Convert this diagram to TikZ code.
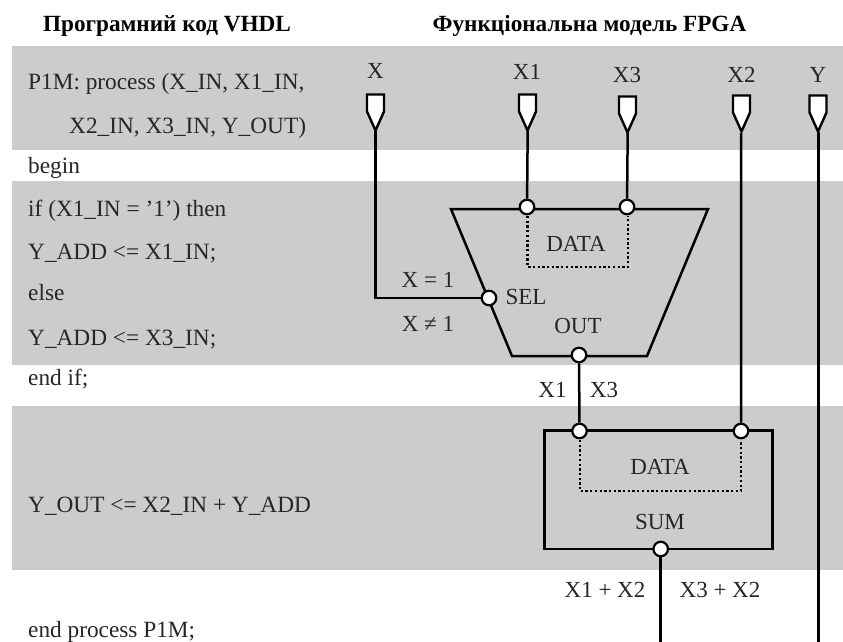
\documentclass[tikz,border=0pt]{standalone}
\usepackage{fontspec}
\setmainfont{Liberation Serif}
\definecolor{band}{HTML}{CCCCCC}
\pgfdeclarelayer{under}
\pgfsetlayers{under,main}
\tikzset{
 x=1pt,y=-1pt,
 bandfill/.style={fill=band,draw=none},
 wire/.style={line width=2.5pt,draw=black,line join=miter},
 dotwire/.style={line width=2.3pt,draw=black,dash pattern=on 2.3pt off 2.4pt},
 pin/.style={draw=black,fill=white,line width=2.4pt,line join=miter},
 port/.style={circle,draw=black,fill=white,line width=2.2pt,minimum size=14.5pt,inner sep=0pt},
 code/.style={anchor=base west,inner sep=0pt,font=\fontsize{23.3}{27}\selectfont,text=black!85},
 lab/.style={anchor=base,inner sep=0pt,font=\fontsize{23}{27}\selectfont,text=black!85},
 head/.style={anchor=base,inner sep=0pt,font=\fontsize{23.2}{27}\selectfont\bfseries}
}
\begin{document}
\begin{tikzpicture}
\useasboundingbox (0,0) rectangle (843,642);
\node[head] (h1) at (167,32) {Програмний код VHDL};
\node[head] (h2) at (589.5,32) {Функціональна модель FPGA};
\node[code] (c1) at (28,89) {P1M: process (X\_IN, X1\_IN,};
\node[code] (c2) at (69,133) {X2\_IN, X3\_IN, Y\_OUT)};
\node[code] (c3) at (28,173) {begin};
\node[code] (c4) at (28,216) {if (X1\_IN = ’1’) then};
\node[code] (c5) at (28,259) {Y\_ADD <= X1\_IN;};
\node[code] (c6) at (28,300) {else};
\node[code] (c7) at (28,345) {Y\_ADD <= X3\_IN;};
\node[code] (c8) at (28,385) {end if;};
\node[code] (c9) at (28,512) {Y\_OUT <= X2\_IN + Y\_ADD};
\node[code] (c10) at (28,637.5) {end process P1M;};
\coordinate (pX) at (375.7,131);
\coordinate (pXa) at (527.7,131);
\coordinate (pXb) at (627.7,133);
\coordinate (pXc) at (741.2,133);
\coordinate (pY) at (818.3,131.5);
\node[port] (d1) at (527,207) {};
\node[port] (d2) at (627,207) {};
\node[port] (sel) at (489,298) {};
\node[port] (out) at (579,355) {};
\node[port] (s1) at (579.5,431) {};
\node[port] (s2) at (741,431) {};
\node[port] (s3) at (660.7,549) {};
\coordinate (e1) at (660.7,642);
\coordinate (e2) at (818.3,642);
\begin{pgfonlayer}{under}
\fill[white] (0,0) rectangle (843,642);
\fill[bandfill] (11.5,46) rectangle (843,150);
\fill[bandfill] (11.5,181) rectangle (843,365);
\fill[bandfill] (11.5,406) rectangle (843,570);
\draw[wire] (pX) |- (sel);
\draw[wire] (pXa) -- (d1);
\draw[wire] (pXb) -- (d2);
\draw[wire] (pXc) -- (s2);
\draw[wire] (pY) -- (e2);
\draw[wire] (451,209) -- (708,209) -- (647,356) -- (512,356) -- cycle;
\draw[dotwire] (527.5,216) |- (628,267) -- (628,216);
\draw[wire] (out) -- (s1);
\draw[wire] (544.5,430.5) rectangle (772.7,549);
\draw[dotwire] (580,440) |- (741,491) -- (741,440);
\draw[wire] (s3) -- (e1);
\end{pgfonlayer}
\foreach \x/\y in {375.5/94.5,527.5/94.5,627.5/96.5,741.5/95.5,818/95.5}{
 \draw[pin] (\x-8.5,\y) -- (\x+8.5,\y) -- (\x+8.5,\y+17) -- (\x,\y+36) -- (\x-8.5,\y+17) -- cycle;
}
\node[lab] at (375.5,78.5) {X};
\node[lab] at (527,79) {X1};
\node[lab] at (627,82) {X3};
\node[lab] at (741.5,82) {X2};
\node[lab] at (818,82) {Y};
\node[lab] at (428,287) {X = 1};
\node[lab] at (428,331) {X ≠ 1};
\node[lab] at (526,304) {SEL};
\node[lab] at (578,333) {OUT};
\node[lab] at (576,251) {DATA};
\node[lab] at (552.5,397) {X1};
\node[lab] at (604,397) {X3};
\node[lab] at (660,474) {DATA};
\node[lab] at (660,529) {SUM};
\node[lab] at (605,597) {X1 + X2};
\node[lab] at (720,597) {X3 + X2};
\end{tikzpicture}
\end{document}
